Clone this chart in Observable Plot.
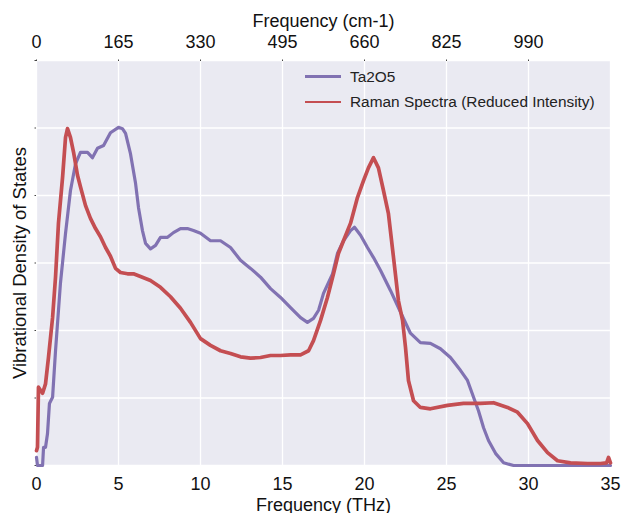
<!DOCTYPE html>
<html><head><meta charset="utf-8">
<script src="https://cdn.jsdelivr.net/npm/d3@7"></script>
<script src="https://cdn.jsdelivr.net/npm/@observablehq/plot@0.6"></script>
<style>
body{margin:0;background:#fff}
#wrap{position:relative;width:621px;height:513px;font-family:"Liberation Sans",Arial,sans-serif}
#legend{position:absolute;left:305px;top:64px;font-size:15.4px;color:#222}
#legend .row{display:flex;align-items:center;height:25px}
#legend .sw{width:36px;margin-right:9px}
</style>
</head><body><div id="wrap"></div>
<script>
// Ta2O5 vibrational DOS (THz, arbitrary units)
const ta2o5Freq = [0,0.06,0.37,0.43,0.55,0.67,0.79,0.98,1.16,1.46,1.77,2.07,2.38,2.68,3.11,3.41,3.72,4.09,4.51,5.0,5.24,5.43,5.73,6.04,6.22,6.46,6.65,6.95,7.26,7.56,7.99,8.35,8.78,9.2,9.57,10.0,10.61,11.22,11.83,12.44,13.05,13.66,14.27,14.88,15.49,16.1,16.52,16.89,17.2,17.5,18.05,18.35,18.72,19.15,19.39,19.76,20.18,20.55,20.98,21.59,22.2,22.8,23.41,24.02,24.63,25.24,25.85,26.28,26.65,26.95,27.26,27.56,27.99,28.48,29.09,35];
const ta2o5Dos = [0.12,0,0,0.27,0.27,0.47,0.92,1.01,1.70,2.70,3.44,4.07,4.47,4.64,4.64,4.56,4.70,4.74,4.93,5.01,4.99,4.92,4.62,4.18,3.82,3.48,3.29,3.21,3.26,3.38,3.38,3.45,3.51,3.51,3.48,3.44,3.33,3.33,3.23,3.04,2.92,2.79,2.62,2.49,2.34,2.19,2.12,2.18,2.30,2.55,2.84,3.14,3.33,3.48,3.53,3.41,3.23,3.08,2.89,2.59,2.27,1.96,1.82,1.81,1.73,1.60,1.41,1.26,1.01,0.81,0.56,0.37,0.18,0.04,0,0];
// Raman spectrum (reduced intensity)
const ramanFreq = [0,0.06,0.12,0.37,0.55,0.73,0.98,1.16,1.34,1.59,1.77,1.89,2.07,2.26,2.5,2.68,2.99,3.29,3.6,3.9,4.21,4.51,4.82,5.12,5.55,5.91,6.34,6.95,7.56,8.17,8.78,9.39,10.0,10.61,11.22,11.83,12.44,13.05,13.66,14.27,14.88,15.49,16.1,16.59,16.89,17.32,17.74,18.11,18.41,18.72,19.15,19.57,19.94,20.24,20.55,20.85,21.16,21.46,21.77,22.07,22.32,22.5,22.68,22.99,23.41,24.02,25.06,26.04,27.07,27.87,28.72,29.33,29.94,30.55,31.16,31.77,32.56,33.6,34.39,34.76,34.88,35];
const ramanInt = [0.22,0.27,1.16,1.07,1.21,1.60,2.19,2.79,3.59,4.27,4.86,4.99,4.86,4.64,4.30,4.13,3.85,3.66,3.51,3.39,3.23,3.10,2.92,2.86,2.84,2.84,2.80,2.74,2.64,2.50,2.33,2.12,1.88,1.78,1.70,1.66,1.61,1.59,1.60,1.63,1.63,1.64,1.64,1.70,1.85,2.15,2.49,2.84,3.14,3.33,3.59,3.97,4.22,4.41,4.56,4.41,4.07,3.73,3.08,2.44,2.15,1.75,1.26,0.96,0.86,0.84,0.89,0.92,0.92,0.93,0.86,0.79,0.62,0.37,0.19,0.07,0.04,0.03,0.03,0.04,0.12,0.04];

const thzTicks = [0,5,10,15,20,25,30,35];
const cmTicks = [0,5,10,15,20,25,30];
const cmTickLabels = ["0","165","330","495","660","825","990"];
const yTicks = [0,1,2,3,4,5,6];
const seriesNames = ["Ta2O5","Raman Spectra (Reduced Intensity)"];
const seriesColors = ["#8172B2","#C44E52"];

const dos = ta2o5Freq.map((f,i)=>({f, v: ta2o5Dos[i]}));
const raman = ramanFreq.map((f,i)=>({f, v: ramanInt[i]}));

const chart = Plot.plot({
  width: 621, height: 513,
  marginLeft: 36, marginRight: 11, marginTop: 60, marginBottom: 48,
  style: {fontFamily: '"Liberation Sans", Arial, sans-serif', fontSize: "18px", color: "#111", background: "#fff", overflow: "visible"},
  x: {domain: [0,35]},
  y: {domain: [0,6]},
  marks: [
    Plot.frame({fill: "#EAEAF2", stroke: null}),
    Plot.gridX(thzTicks, {stroke: "#fff", strokeOpacity: 1, strokeWidth: 1.3}),
    Plot.gridY(yTicks, {stroke: "#fff", strokeOpacity: 1, strokeWidth: 1.3}),
    Plot.axisX(thzTicks, {anchor: "bottom", tickSize: 0, tickPadding: 12, fontSize: 18, label: "Frequency (THz)", labelAnchor: "center", labelOffset: 45, labelArrow: "none"}),
    Plot.axisX(cmTicks, {anchor: "top", tickSize: 1.5, tickPadding: 11, fontSize: 18, tickFormat: (d,i)=>cmTickLabels[cmTicks.indexOf(d)], label: "Frequency (cm-1)", labelAnchor: "center", labelOffset: 46, labelArrow: "none", stroke: "#444"}),
    Plot.axisY(yTicks, {anchor: "left", tickSize: 1.5, tickFormat: () => "", label: "Vibrational Density of States", labelAnchor: "center", labelOffset: 24, labelArrow: "none", fontSize: 18.5, stroke: "#444"}),
    Plot.line(dos, {x: "f", y: "v", stroke: seriesColors[0], strokeWidth: 3.2, strokeLinejoin: "round"}),
    Plot.line(raman, {x: "f", y: "v", stroke: seriesColors[1], strokeWidth: 3.7, strokeLinejoin: "round"})
  ]
});
const wrap = document.getElementById("wrap");
wrap.appendChild(chart);

const legend = document.createElement("div");
legend.id = "legend";
seriesNames.forEach((name,i)=>{
  const row = document.createElement("div");
  row.className = "row";
  const sw = document.createElement("div");
  sw.className = "sw";
  sw.style.borderTop = `${i===0?3:2}px solid ${seriesColors[i]}`;
  const t = document.createElement("span");
  t.textContent = name;
  row.appendChild(sw); row.appendChild(t);
  legend.appendChild(row);
});
wrap.appendChild(legend);
</script>
</body></html>
